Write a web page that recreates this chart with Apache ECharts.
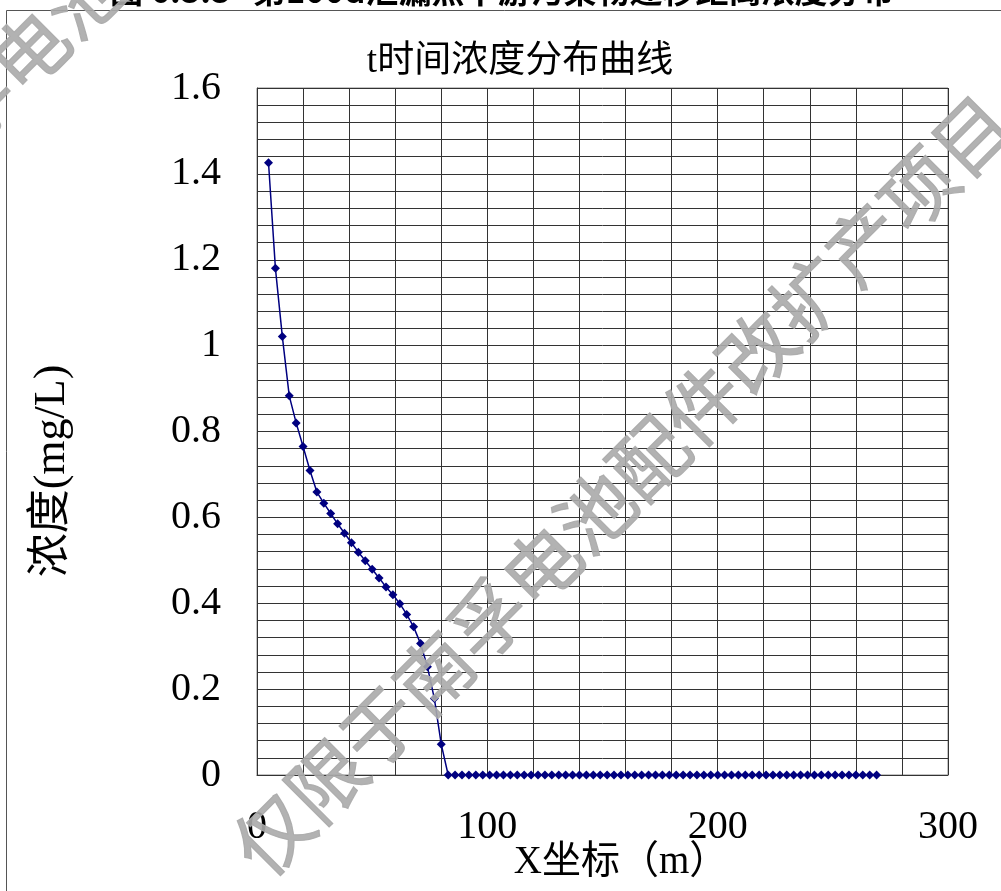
<!DOCTYPE html>
<html>
<head>
<meta charset="utf-8">
<script src="https://cdn.jsdelivr.net/npm/echarts@6/dist/echarts.min.js"></script>
<style>
html,body{margin:0;padding:0;background:#fff;}
#chart{width:1001px;height:891px;}
</style>
</head>
<body>
<div id="chart"></div>
<script>
// Distance along x (m)
const xValues = [5,8,11,14,17,20,23,26,29,32,35,38,41,44,47,50,53,56,59,62,65,68,71,74,77,80,
  83,86,89,92,95,98,101,104,107,110,113,116,119,122,125,128,131,134,137,140,143,146,149,152,
  155,158,161,164,167,170,173,176,179,182,185,188,191,194,197,200,203,206,209,212,215,218,221,
  224,227,230,233,236,239,242,245,248,251,254,257,260,263,266,269];
// Concentration (mg/L)
const concValues = [1.426,1.180,1.021,0.883,0.820,0.765,0.709,0.659,0.633,0.609,0.585,0.563,0.541,
  0.519,0.499,0.479,0.459,0.438,0.420,0.399,0.374,0.345,0.306,0.252,0.178,0.0715,
  0,0,0,0,0,0,0,0,0,0,0,0,0,0,0,0,0,0,0,0,0,0,0,0,0,0,0,0,0,0,0,0,0,0,0,0,0,
  0,0,0,0,0,0,0,0,0,0,0,0,0,0,0,0,0,0,0,0,0,0,0,0,0,0];
const xTickLabels = [0,100,200,300];
const yTickLabels = [0,0.2,0.4,0.6,0.8,1,1.2,1.4,1.6];

const chartTitle = 't时间浓度分布曲线';
const xName = 'X坐标（m）';
const yName = '浓度(mg/L)';
const figCaption = '图 6.3.3   第100d泄漏点下游污染物迁移距离浓度分布';
const watermark = '仅限于南孚电池配件改扩产项目';

const seriesData = xValues.map((x, i) => [x, concValues[i]]);
const labelFont = '"Liberation Serif", "Noto Sans CJK SC", serif';
const wmStyle = {text: watermark, fontSize: 76, fontWeight: 'normal', fill: 'rgba(170,170,170,0.9)',
  stroke: 'rgba(170,170,170,0.9)', lineWidth: 1.2,
  fontFamily: '"Noto Sans CJK SC", sans-serif', textAlign: 'center', textVerticalAlign: 'middle'};

const chart = echarts.init(document.getElementById('chart'), null, {renderer: 'canvas'});
chart.setOption({
  backgroundColor: '#ffffff',
  animation: false,
  grid: {left: 257, top: 88, right: 53, bottom: 116, show: true, borderColor: '#888', borderWidth: 1},
  xAxis: {
    type: 'value', min: 0, max: 300, interval: 20,
    axisLine: {show: true, lineStyle: {color: '#333', width: 1}},
    axisTick: {show: false},
    splitLine: {show: true, lineStyle: {color: '#333', width: 1}},
    axisLabel: {
      margin: 32, fontSize: 40, color: '#000', fontFamily: labelFont,
      formatter: v => xTickLabels.indexOf(v) >= 0 ? String(v) : ''
    }
  },
  yAxis: {
    type: 'value', min: 0, max: 1.6, interval: 0.04,
    axisLine: {show: true, lineStyle: {color: '#333', width: 1}},
    axisTick: {show: false},
    splitLine: {show: true, lineStyle: {color: '#333', width: 1}},
    axisLabel: {
      margin: 36, fontSize: 40, color: '#000', fontFamily: labelFont,
      formatter: v => {
        const r = Math.round(v * 10) / 10;
        const hit = yTickLabels.some(t => Math.abs(t - v) < 1e-6);
        return hit ? String(r) : '';
      }
    }
  },
  series: [{
    type: 'line',
    data: seriesData,
    smooth: false,
    symbol: 'diamond',
    symbolSize: 9,
    itemStyle: {color: '#000080'},
    lineStyle: {color: '#000080', width: 1.5},
    z: 3
  }],
  graphic: [
    {type: 'rect', shape: {x: 6.5, y: 10.5, width: 1200, height: 1200},
     style: {fill: 'none', stroke: '#555', lineWidth: 1}, z: 1, silent: true},
    {type: 'text', x: 110, y: 7, z: 5,
     style: {text: figCaption, fontSize: 33, fontWeight: 'bold', fill: '#000',
             fontFamily: '"Noto Sans CJK SC", sans-serif', textAlign: 'left', textVerticalAlign: 'bottom'}},
    {type: 'text', x: 520, y: 62, z: 5,
     style: {text: chartTitle, fontSize: 37, fill: '#000', fontFamily: labelFont,
             textAlign: 'center', textVerticalAlign: 'middle'}},
    {type: 'text', x: 621, y: 863, z: 5,
     style: {text: xName, fontSize: 39, fill: '#000', fontFamily: labelFont,
             textAlign: 'center', textVerticalAlign: 'middle'}},
    {type: 'text', x: 52, y: 471, rotation: Math.PI / 2, z: 5,
     style: {text: yName, fontSize: 44, fill: '#000', fontFamily: labelFont,
             textAlign: 'center', textVerticalAlign: 'middle'}},
    {type: 'text', x: 622, y: 485, rotation: Math.PI / 4, z: 100, silent: true, style: wmStyle},
    {type: 'text', x: 110, y: -30, rotation: Math.PI / 4, z: 100, silent: true, style: wmStyle}
  ]
});
</script>
</body>
</html>
